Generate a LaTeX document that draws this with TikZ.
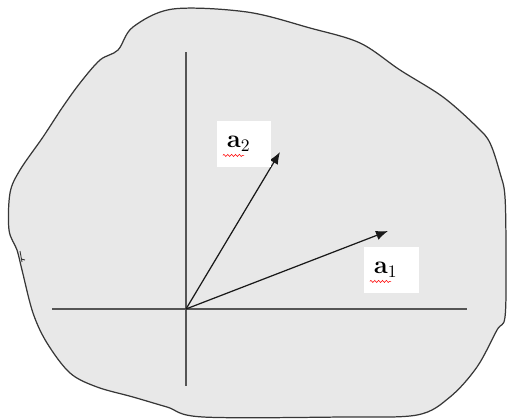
\documentclass[tikz,border=0pt]{standalone}
\usepackage{tikz}
\usetikzlibrary{arrows.meta,positioning,decorations.pathmorphing}
\definecolor{blobgray}{RGB}{232,232,232}
\definecolor{edgegray}{RGB}{55,55,55}
\definecolor{axisgray}{RGB}{85,85,85}

\begin{document}
\begin{tikzpicture}[x=0.02cm, y=-0.02cm,
  region/.style={draw=edgegray, fill=blobgray, line width=0.7pt},
  axis/.style={draw=axisgray, line width=0.85pt},
  arr/.style={-{Latex[length=2.4mm, width=1.9mm]}, line width=0.7pt, black!90},
  lbl/.style={fill=white, minimum width=1.1cm, minimum height=0.92cm, inner sep=0pt, font=\Large},
  squig/.style={red, line width=0.3pt, decorate, decoration={zigzag, amplitude=0.6pt, segment length=2.2pt}}
]
\useasboundingbox (0,0) rectangle (507,419);
% region
\draw[region] plot[smooth cycle, tension=0.55] coordinates {
  (173,9) (247,12) (310,28) (360,43) (400,70) (443,97) (477,127) (490,143)
  (500,173) (505,197) (506,260) (505,317) (497,330) (477,367) (450,397)
  (417,415) (343,417) (203,417) (167,407) (133,397) (97,387) (70,373)
  (47,343) (33,313) (22,270) (17,250) (9,230) (10,193) (20,170) (43,137)
  (62,108) (80,83) (100,60) (118,50) (133,27)};
\draw[edgegray, line width=0.5pt] (20,251) -- (22,262) (21,259) -- (25,260);

% axes
\coordinate (o) at (186,309);
\coordinate (xl) at (52,309);
\coordinate (xr) at (467,309);
\coordinate (yt) at (186,52);
\coordinate (yb) at (186,386);
\draw[axis] (xl) -- (xr);
\draw[axis] (yt) -- (yb);

% vectors
\coordinate (t1) at (388,231);
\coordinate (t2) at (280,152);
\draw[arr] (o) -- (t1);
\draw[arr] (o) -- (t2);

% labels
\node[lbl] (lab2) at (244,144) {\hspace*{-6pt}$\mathbf{a}_2$};
\node[lbl] (lab1) at (391,270) {\hspace*{-6pt}$\mathbf{a}_1$};
\draw[squig] ([xshift=-12pt, yshift=-6.5pt]lab2.center) -- ([xshift=0pt, yshift=-6.5pt]lab2.center);
\draw[squig] ([xshift=-12pt, yshift=-6.5pt]lab1.center) -- ([xshift=0pt, yshift=-6.5pt]lab1.center);
\end{tikzpicture}
\end{document}
